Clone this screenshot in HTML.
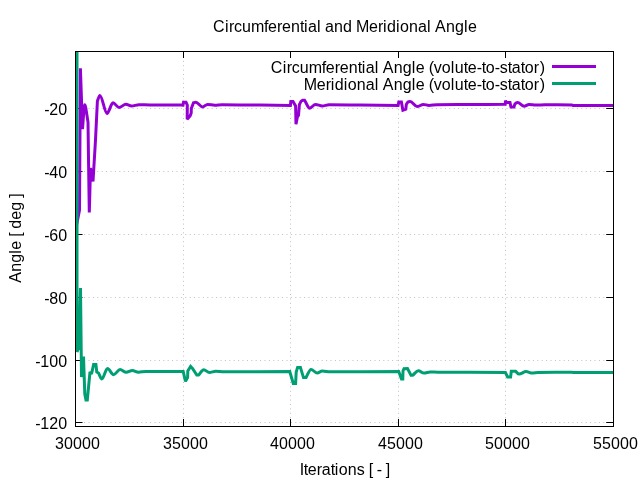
<!DOCTYPE html>
<html><head><meta charset="utf-8"><style>
html,body{margin:0;padding:0;background:#fff;width:640px;height:480px;overflow:hidden}
svg{display:block;will-change:transform}
text{font-family:"Liberation Sans",sans-serif;font-size:16px;fill:#000}
.k{stroke:#000;stroke-width:1;fill:none}
.g{stroke:#c0c0c0;stroke-width:1;stroke-dasharray:1 3.4;fill:none}
.p1{stroke:#9400d3;stroke-width:3;fill:none;stroke-linejoin:miter;stroke-miterlimit:2;stroke-linecap:butt}
.p2{stroke:#009e73;stroke-width:3;fill:none;stroke-linejoin:miter;stroke-miterlimit:2;stroke-linecap:butt}
</style></head><body>
<svg width="640" height="480" viewBox="0 0 640 480">
<defs><clipPath id="c"><rect x="76" y="52" width="537" height="374"/></clipPath></defs>
<line x1="75.3" y1="108.5" x2="613" y2="108.5" class="g"/>
<line x1="75.3" y1="171.5" x2="613" y2="171.5" class="g"/>
<line x1="75.3" y1="234.5" x2="613" y2="234.5" class="g"/>
<line x1="75.3" y1="297.5" x2="613" y2="297.5" class="g"/>
<line x1="75.3" y1="360.5" x2="613" y2="360.5" class="g"/>
<line x1="75.3" y1="422.5" x2="613" y2="422.5" class="g"/>
<line x1="183.5" y1="427" x2="183.5" y2="51" class="g"/>
<line x1="290.5" y1="427" x2="290.5" y2="51" class="g"/>
<line x1="398.5" y1="427" x2="398.5" y2="51" class="g"/>
<line x1="505.5" y1="427" x2="505.5" y2="51" class="g"/>
<path d="M75 108.5H82.5M614 108.5H606.2M75 171.5H82.5M614 171.5H606.2M75 234.5H82.5M614 234.5H606.2M75 297.5H82.5M614 297.5H606.2M75 360.5H82.5M614 360.5H606.2M75 422.5H82.5M614 422.5H606.2M75.5 427V419M75.5 51V58M183.5 427V419M183.5 51V58M290.5 427V419M290.5 51V58M398.5 427V419M398.5 51V58M505.5 427V419M505.5 51V58M613.5 427V419M613.5 51V58" class="k"/>
<rect x="75.5" y="51.5" width="538.0" height="375.0" class="k"/>
<g clip-path="url(#c)"><path d="M76.00 228.00 L79.50 210.00 L80.40 68.30 L82.50 129.00 C83.23 120.93 83.97 104.80 84.70 104.80 C85.80 104.80 86.90 116.27 88.00 122.00 L88.60 165.00 L89.30 212.50 L90.50 168.00 L93.00 181.50 L95.50 140.00 L97.40 101.00 C98.23 99.13 99.07 95.40 99.90 95.40 C102.27 95.40 104.63 113.40 107.00 113.40 C109.00 113.40 111.00 102.80 113.00 102.80 C115.00 102.80 117.00 107.50 119.00 107.50 C121.30 107.50 123.60 104.20 125.90 104.20 C127.77 104.20 129.63 106.00 131.50 106.00 C134.00 106.00 136.50 104.70 139.00 104.70 C142.67 104.70 146.33 105.00 150.00 105.00 C158.67 105.00 167.33 104.85 176.00 104.90 C178.33 104.91 180.67 105.10 183.00 105.20 L183.50 102.20 L186.00 102.20 L187.30 105.00 L187.20 119.30 L190.20 115.80 L191.20 113.00 L191.30 108.50 L193.50 102.80 C194.27 102.60 195.03 102.20 195.80 102.20 C198.03 102.20 200.27 106.90 202.50 106.90 C204.17 106.90 205.83 104.40 207.50 104.40 C209.90 104.40 212.30 105.20 214.70 105.20 C217.13 105.20 219.57 104.80 222.00 104.80 C234.67 104.80 247.33 104.99 260.00 105.10 C270.13 105.19 280.27 105.30 290.40 105.40 L290.80 101.50 L293.00 101.50 L295.60 106.00 L296.00 124.20 L297.30 117.30 L298.50 115.20 L299.40 104.50 C300.00 103.40 300.60 101.99 301.20 101.20 C301.67 100.59 302.13 100.60 302.60 100.30 L304.60 100.30 C306.32 102.93 308.03 108.20 309.75 108.20 C311.63 108.20 313.52 104.40 315.40 104.40 C317.67 104.40 319.93 106.00 322.20 106.00 C324.47 106.00 326.73 104.80 329.00 104.80 C339.33 104.80 349.67 105.00 360.00 105.10 C372.70 105.23 385.40 105.37 398.10 105.50 L398.80 101.90 L401.40 101.90 L402.90 110.20 L405.80 109.10 L406.30 104.50 C406.87 103.67 407.43 102.44 408.00 102.00 C408.73 101.44 409.47 101.50 410.20 101.50 C412.50 101.50 414.80 106.60 417.10 106.60 C419.20 106.60 421.30 104.40 423.40 104.40 C425.27 104.40 427.13 105.40 429.00 105.40 C431.67 105.40 434.33 104.70 437.00 104.70 C448.00 104.70 459.00 104.56 470.00 104.50 C481.73 104.43 493.47 104.37 505.20 104.30 L505.50 100.70 L506.50 102.60 L510.00 102.60 L511.00 107.00 L514.00 107.00 C514.33 106.00 514.67 104.41 515.00 104.00 C515.87 102.94 516.73 102.60 517.60 102.60 C519.77 102.60 521.93 106.30 524.10 106.30 C525.73 106.30 527.37 104.60 529.00 104.60 C531.33 104.60 533.67 105.10 536.00 105.10 C539.00 105.10 542.00 104.80 545.00 104.80 C554.00 104.80 563.00 104.68 572.00 104.90 C572.33 104.91 572.67 105.30 573.00 105.50 L613.50 105.50" class="p1"/><path d="M77.00 30.00 L77.00 352.00 L79.00 347.00 L80.50 288.00 L81.50 377.00 L83.50 356.50 L84.80 394.00 L86.00 400.00 L87.30 400.00 L90.00 372.00 L91.50 374.00 L93.60 364.60 L95.90 364.60 L96.80 372.00 L98.50 373.00 C99.60 375.00 100.70 379.00 101.80 379.00 C103.70 379.00 105.60 368.60 107.50 368.60 C109.53 368.60 111.57 374.70 113.60 374.70 C115.77 374.70 117.93 369.50 120.10 369.50 C122.13 369.50 124.17 372.30 126.20 372.30 C128.23 372.30 130.27 370.50 132.30 370.50 C134.33 370.50 136.37 372.30 138.40 372.30 C140.93 372.30 143.47 371.40 146.00 371.40 C158.40 371.40 170.80 371.47 183.20 371.50 L185.50 381.30 L187.60 377.50 L187.80 371.00 L189.00 369.00 L190.60 366.50 L192.50 368.40 L196.80 375.00 L198.60 375.00 C200.32 373.23 202.03 369.70 203.75 369.70 C205.63 369.70 207.52 372.50 209.40 372.50 C211.47 372.50 213.53 371.20 215.60 371.20 C218.40 371.20 221.20 371.70 224.00 371.70 C245.92 371.70 267.83 371.63 289.75 371.60 L293.30 383.50 L295.60 383.50 L296.20 372.00 L297.60 367.40 L300.40 367.40 L303.50 377.60 L306.00 377.60 C307.67 374.87 309.33 369.40 311.00 369.40 C313.08 369.40 315.17 373.10 317.25 373.10 C318.92 373.10 320.58 371.00 322.25 371.00 C324.83 371.00 327.42 371.80 330.00 371.80 C352.92 371.80 375.83 371.67 398.75 371.60 L401.50 379.00 L402.80 379.00 L403.00 371.00 L404.00 368.80 L407.50 368.60 L411.00 375.20 L412.80 375.20 C414.67 373.70 416.53 370.70 418.40 370.70 C420.27 370.70 422.13 373.10 424.00 373.10 C426.08 373.10 428.17 371.90 430.25 371.90 C432.83 371.90 435.42 372.20 438.00 372.20 C460.47 372.20 482.93 372.47 505.40 372.60 L507.60 376.90 L510.60 376.90 L511.30 371.20 L515.50 371.20 C516.70 372.17 517.90 374.10 519.10 374.10 C521.40 374.10 523.70 371.60 526.00 371.60 C528.08 371.60 530.17 373.10 532.25 373.10 C534.17 373.10 536.08 372.40 538.00 372.40 C549.33 372.40 560.67 372.27 572.00 372.30 C572.33 372.30 572.67 372.43 573.00 372.50 L613.50 372.50" class="p2"/></g>
<rect x="262" y="59" width="350" height="35" fill="#fff"/>
<text x="44.20 49.20 58.20" y="115">-20</text>
<text x="44.20 49.20 58.20" y="178">-40</text>
<text x="44.20 49.20 58.20" y="241">-60</text>
<text x="44.20 49.20 58.20" y="304">-80</text>
<text x="35.20 40.20 49.20 58.20" y="367">-100</text>
<text x="35.20 40.20 49.20 58.20" y="429">-120</text>
<text x="55.00 64.00 73.00 82.00 91.00" y="449">30000</text>
<text x="163.00 172.00 181.00 190.00 199.00" y="449">35000</text>
<text x="270.00 279.00 288.00 297.00 306.00" y="449">40000</text>
<text x="378.00 387.00 396.00 405.00 414.00" y="449">45000</text>
<text x="485.00 494.00 503.00 512.00 521.00" y="449">50000</text>
<text x="593.00 602.00 611.00 620.00 629.00" y="449">55000</text>
<text x="212.90 224.90 228.90 233.90 241.90 250.90 263.90 267.90 276.90 281.90 290.90 299.90 303.90 307.90 316.90 320.90 324.90 333.90 342.90 351.90 355.90 368.90 377.90 382.90 386.90 395.90 399.90 408.90 417.90 426.90 430.90 434.90 445.90 454.90 463.90 467.90" y="32">Circumferential and Meridional Angle</text>
<text x="299.80 303.80 307.80 316.80 321.80 330.80 334.80 338.80 347.80 356.80 364.80 368.80 372.80 376.80 381.80 385.80" y="475">Iterations [ - ]</text>
<g transform="translate(20.8,238.3) rotate(-90)"><text x="-44.50 -33.50 -24.50 -15.50 -11.50 -2.50 1.50 5.50 9.50 18.50 27.50 36.50 40.50" y="0">Angle [ deg ]</text></g>
<text x="270.80 282.80 286.80 291.80 299.80 308.80 321.80 325.80 334.80 339.80 348.80 357.80 361.80 365.80 374.80 378.80 382.80 393.80 402.80 411.80 415.80 424.80 428.80 433.80 441.80 450.80 454.80 463.80 467.80 476.80 481.80 485.80 494.80 499.80 507.80 511.80 520.80 524.80 533.80 539.80" y="73">Circumferential Angle (volute-to-stator)</text>
<text x="303.80 316.80 325.80 330.80 334.80 343.80 347.80 356.80 365.80 374.80 378.80 382.80 393.80 402.80 411.80 415.80 424.80 428.80 433.80 441.80 450.80 454.80 463.80 467.80 476.80 481.80 485.80 494.80 499.80 507.80 511.80 520.80 524.80 533.80 539.80" y="90">Meridional Angle (volute-to-stator)</text>
<path d="M552 66.5H596" class="p1"/><path d="M552 83.5H596" class="p2"/>
</svg>
</body></html>
